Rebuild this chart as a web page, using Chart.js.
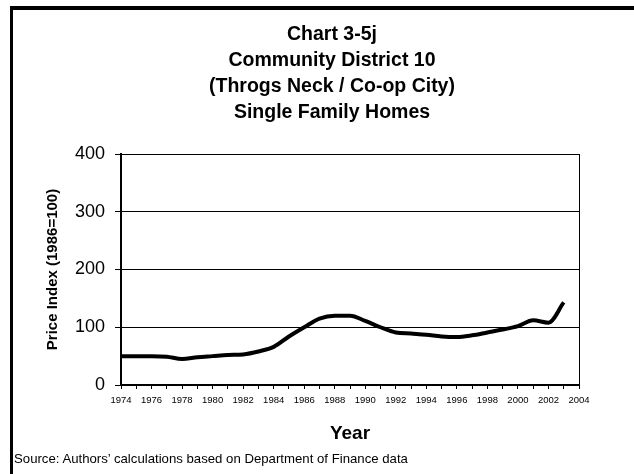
<!DOCTYPE html>
<html>
<head>
<meta charset="utf-8">
<script src="https://cdn.jsdelivr.net/npm/chart.js@4/dist/chart.umd.min.js"></script>
<style>
  html, body { margin: 0; padding: 0; background: #fff; overflow: hidden; width: 634px; height: 474px; }
  #frame { position: absolute; left: 10px; top: 6px; width: 700px; height: 600px; border-left: 3px solid #000; border-top: 4px solid #000; box-sizing: border-box; }
  #c { position: absolute; left: 0; top: 0; }
  #source { position: absolute; left: 14px; top: 451px; font: 13.2px "Liberation Sans", Arial, sans-serif; color: #000; white-space: nowrap; }
</style>
</head>
<body>
<div id="frame"></div>
<canvas id="c" width="634" height="474"></canvas>
<div id="source">Source: Authors’ calculations based on Department of Finance data</div>
<script>
const titleLines = ["Chart 3-5j", "Community District 10", "(Throgs Neck / Co-op City)", "Single Family Homes"];
const xAxisTitle = "Year";
const yAxisTitle = "Price Index (1986=100)";
const years = [1974, 1975, 1976, 1977, 1978, 1979, 1980, 1981, 1982, 1983, 1984, 1985, 1986, 1987, 1988, 1989, 1990, 1991, 1992, 1993, 1994, 1995, 1996, 1997, 1998, 1999, 2000, 2001, 2002, 2003];
const priceIndex = [50, 50, 50, 49, 45, 48, 50, 52, 53, 58, 66, 84, 100, 115, 120, 120, 111, 100, 91, 89, 87, 84, 83, 86, 91, 96, 102, 112, 108, 143];
const yTicks = [0, 100, 200, 300, 400];
const xMin = 1974, xMax = 2004;

const points = years.map((y, i) => ({ x: y, y: priceIndex[i] }));
const FONT = '"Liberation Sans", Arial, sans-serif';

// Multi-line chart title, centred over the framed figure
const titlePlugin = {
  id: 'frameTitle',
  afterDraw(chart, args, opts) {
    const ctx = chart.ctx;
    ctx.save();
    ctx.fillStyle = '#000';
    ctx.font = 'bold ' + opts.size + 'px ' + FONT;
    ctx.textAlign = 'center';
    ctx.textBaseline = 'middle';
    opts.lines.forEach((t, i) => ctx.fillText(t, opts.centerX, opts.firstY + i * opts.lineGap));
    ctx.restore();
  }
};

new Chart(document.getElementById('c'), {
  type: 'line',
  data: {
    datasets: [{
      label: 'Price Index',
      data: points,
      borderColor: '#000',
      borderWidth: 4,
      pointRadius: 0,
      cubicInterpolationMode: 'monotone',
      fill: false
    }]
  },
  plugins: [titlePlugin],
  options: {
    responsive: false,
    animation: false,
    devicePixelRatio: 1,
    layout: { padding: { left: 0, right: 55, top: 154, bottom: 0 } },
    plugins: {
      legend: { display: false },
      tooltip: { enabled: false },
      title: { display: false },
      frameTitle: { lines: titleLines, size: 19.5, centerX: 332, firstY: 34.5, lineGap: 26 }
    },
    scales: {
      x: {
        type: 'linear',
        min: xMin,
        max: xMax,
        afterFit: s => { s.height = 89; },
        ticks: {
          stepSize: 1,
          autoSkip: false,
          maxRotation: 0,
          minRotation: 0,
          padding: 6,
          color: '#000',
          font: { family: FONT, size: 9.5 },
          callback: v => (v % 2 === 0 ? String(v) : '')
        },
        grid: {
          drawOnChartArea: true,
          color: c => (c.tick && c.tick.value === xMax ? '#000' : 'rgba(0,0,0,0)'),
          tickColor: '#000',
          tickLength: 4,
          lineWidth: 1
        },
        border: { display: true, color: '#000', width: 2 },
        title: {
          display: true,
          text: xAxisTitle,
          color: '#000',
          font: { family: FONT, size: 19, weight: 'bold' },
          padding: { top: 0, bottom: 29 }
        }
      },
      y: {
        min: 0,
        max: 400,
        afterFit: s => { s.width = 121; },
        afterBuildTicks: s => { s.ticks = yTicks.map(v => ({ value: v })); },
        ticks: {
          padding: 10,
          color: '#000',
          font: { family: FONT, size: 18 }
        },
        grid: {
          color: '#000',
          lineWidth: 1,
          tickLength: 6,
          tickColor: '#000'
        },
        border: { display: true, color: '#000', width: 2 },
        title: {
          display: true,
          text: yAxisTitle,
          color: '#000',
          font: { family: FONT, size: 15, weight: 'bold' },
          padding: { top: 44, bottom: 0 }
        }
      }
    }
  }
});
</script>
</body>
</html>
